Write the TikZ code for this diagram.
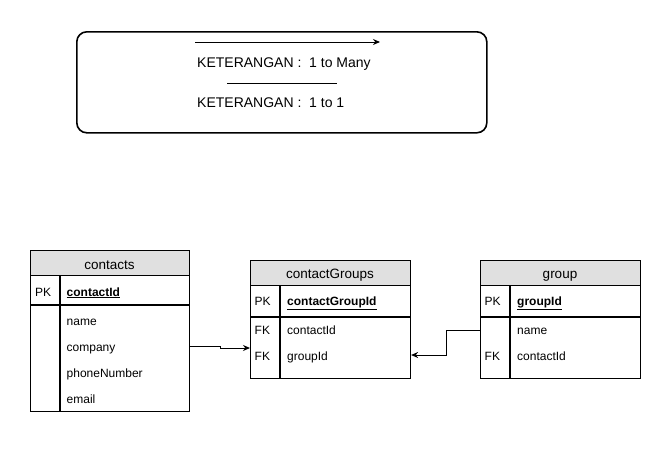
\documentclass[tikz,border=0pt]{standalone}
\usepackage{fontspec}
\setmainfont{Liberation Sans}
\usetikzlibrary{arrows.meta}
\definecolor{hdrgray}{HTML}{E0E0E0}
\begin{document}
\begin{tikzpicture}[x=1pt,y=-1pt,
  tablebox/.style={draw,line width=1.1pt,inner sep=0pt,anchor=north west},
  headbox/.style={draw,line width=1.1pt,fill=hdrgray,inner sep=0pt,anchor=north west,minimum height=25pt},
  headtext/.style={font=\fontsize{13.5}{15}\selectfont,anchor=base,inner sep=0pt},
  keytext/.style={font=\fontsize{12}{14}\selectfont,anchor=base west,inner sep=0pt},
  fieldtext/.style={font=\fontsize{12}{14}\selectfont,anchor=base west,inner sep=0pt},
  rowline/.style={line width=1.1pt},
  conn/.style={line width=1pt,-{Stealth[length=7pt,width=6pt]}},
  legendbox/.style={draw,line width=1.6pt,rounded corners=10pt,inner sep=0pt,anchor=north west},
  legtext/.style={font=\fontsize{14}{16}\selectfont,anchor=base west,inner sep=0pt}]
\useasboundingbox (0,0) rectangle (671,451);

% legend
\node[legendbox,minimum width=410pt,minimum height=101pt] (legend) at (76,31) {};
\coordinate (la1) at (195,42);
\coordinate (la2) at (380,42);
\draw[conn] (la1) -- (la2);
\node[legtext] (lt1) at (197,67) {KETERANGAN :~ 1 to Many};
\coordinate (lb1) at (227,83);
\coordinate (lb2) at (337,83);
\draw[line width=1pt] (lb1) -- (lb2);
\node[legtext] (lt2) at (197,107) {KETERANGAN :~ 1 to 1};

% contacts
\node[tablebox,minimum width=159pt,minimum height=161pt] (contacts) at (30,250) {};
\node[headbox,minimum width=159pt] (contactsHead) at (30,250) {};
\node[headtext] (contactsTitle) at (109.5,269) {contacts};
\draw[rowline] (30,305) -- (189,305);
\draw[rowline] (60,275) -- (60,411);
\node[keytext] (cPK) at (35,296) {PK};
\node[fieldtext] (cId) at (66.5,296) {\underline{\textbf{contactId}}};
\node[fieldtext] (cName) at (66.5,325.5) {name};
\node[fieldtext] (cCompany) at (66.5,351.5) {company};
\node[fieldtext] (cPhone) at (66.5,377.5) {phoneNumber};
\node[fieldtext] (cEmail) at (66.5,403) {email};

% contactGroups
\node[tablebox,minimum width=160pt,minimum height=118pt] (contactGroups) at (250,260) {};
\node[headbox,minimum width=160pt] (cgHead) at (250,260) {};
\node[headtext] (cgTitle) at (330,278.5) {contactGroups};
\draw[rowline] (250,317) -- (410,317);
\draw[rowline] (280,285) -- (280,378);
\node[keytext] (cgPK) at (254.5,305.5) {PK};
\node[fieldtext] (cgId) at (287,305.5) {\underline{\textbf{contactGroupId}}};
\node[keytext] (cgFK1) at (254.5,334.5) {FK};
\node[fieldtext] (cgContact) at (287,334.5) {contactId};
\node[keytext] (cgFK2) at (254.5,360.5) {FK};
\node[fieldtext] (cgGroup) at (287,360.5) {groupId};

% group
\node[tablebox,minimum width=160pt,minimum height=118pt] (group) at (480,260) {};
\node[headbox,minimum width=160pt] (gHead) at (480,260) {};
\node[headtext] (gTitle) at (560,278.5) {group};
\draw[rowline] (480,317) -- (640,317);
\draw[rowline] (510,285) -- (510,378);
\node[keytext] (gPK) at (484.5,305.5) {PK};
\node[fieldtext] (gId) at (517,305.5) {\underline{\textbf{groupId}}};
\node[fieldtext] (gName) at (517,334.5) {name};
\node[keytext] (gFK) at (484.5,360.5) {FK};
\node[fieldtext] (gContact) at (517,360.5) {contactId};

% connectors
\draw[conn] (contacts.east |- 0,346) -- (220,346) -- (220,348) -- (contactGroups.west |- 0,348);
\draw[conn] (group.west |- 0,330) -- (446,330) -- (446,355) -- (contactGroups.east |- 0,355);
\end{tikzpicture}
\end{document}
